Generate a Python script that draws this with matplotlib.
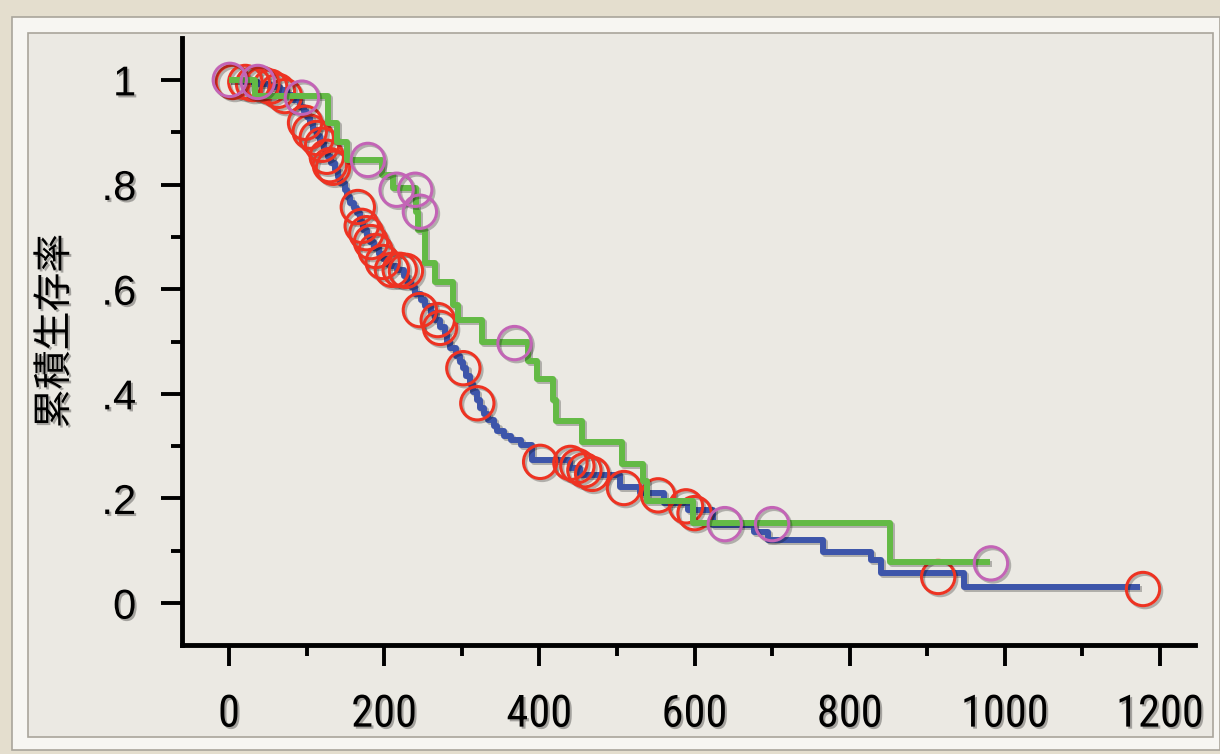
import matplotlib.pyplot as plt
import matplotlib.patheffects as pe
from matplotlib.patches import Rectangle
from matplotlib import font_manager

# group 1 (blue) - step times (days) and survival after each step
blue_time = [0, 21, 37, 53, 66, 75, 83, 92, 97, 101, 105, 108, 114, 117, 123, 127,
             132, 137, 141, 143, 149, 152, 156, 161, 165, 169, 173, 178, 182, 187,
             193, 199, 204, 208, 217, 225, 230, 234, 240, 247, 253, 260, 266, 272,
             278, 281, 285, 292, 298, 302, 306, 310, 314, 319, 324, 329, 334, 341,
             346, 354, 363, 376, 391, 440, 453, 504, 530, 560, 591, 624, 676, 695,
             766, 827, 840, 947]
blue_surv = [1.0, 0.996, 0.992, 0.987, 0.981, 0.971, 0.962, 0.948, 0.939, 0.929,
             0.918, 0.904, 0.893, 0.879, 0.866, 0.853, 0.841, 0.828, 0.815, 0.803,
             0.790, 0.776, 0.765, 0.755, 0.746, 0.729, 0.713, 0.702, 0.690, 0.679,
             0.667, 0.658, 0.648, 0.644, 0.637, 0.625, 0.614, 0.604, 0.591, 0.579,
             0.568, 0.554, 0.541, 0.528, 0.514, 0.499, 0.488, 0.472, 0.461, 0.449,
             0.434, 0.419, 0.403, 0.388, 0.373, 0.361, 0.350, 0.338, 0.329, 0.319,
             0.312, 0.302, 0.273, 0.258, 0.245, 0.222, 0.210, 0.191, 0.178, 0.149,
             0.136, 0.120, 0.098, 0.082, 0.057, 0.031]
blue_end = 1174

# group 1 censored
red_time = [5, 21, 31, 43, 53, 63, 72, 98, 104, 113, 120, 126, 130, 134, 166, 171,
            177, 183, 189, 198, 210, 220, 228, 246, 269, 272, 302, 320, 401, 440,
            449, 458, 468, 509, 553, 589, 600, 914, 1178]
red_surv = [0.996, 0.996, 0.992, 0.992, 0.987, 0.979, 0.969, 0.918, 0.901, 0.889,
            0.876, 0.853, 0.837, 0.832, 0.757, 0.721, 0.707, 0.690, 0.673, 0.652,
            0.637, 0.637, 0.635, 0.560, 0.541, 0.526, 0.449, 0.382, 0.270, 0.268,
            0.262, 0.254, 0.247, 0.220, 0.206, 0.185, 0.172, 0.050, 0.027]

# group 2 (green)
green_time = [0, 34, 128, 139, 152, 197, 211, 241, 244, 253, 266, 289, 295, 326,
              385, 397, 418, 421, 455, 506, 534, 539, 598, 852]
green_surv = [1.0, 0.969, 0.918, 0.881, 0.847, 0.818, 0.793, 0.748, 0.713, 0.650,
              0.614, 0.570, 0.541, 0.499, 0.463, 0.428, 0.388, 0.348, 0.308, 0.266,
              0.233, 0.195, 0.153, 0.078]
green_end = 981

# group 2 censored
purple_time = [1, 37, 94, 179, 216, 240, 246, 368, 639, 700, 982]
purple_surv = [1.0, 0.996, 0.966, 0.847, 0.790, 0.790, 0.748, 0.497, 0.151, 0.151, 0.076]

x_ticks = [0, 200, 400, 600, 800, 1000, 1200]
y_ticks = [0, 0.2, 0.4, 0.6, 0.8, 1.0]
y_tick_labels = ["0", ".2", ".4", ".6", ".8", "1"]
y_title = "累積生存率"

# narrow font for the x labels if one is around
names = {f.name for f in font_manager.fontManager.ttflist}
narrow = None
for cand in ["Liberation Sans Narrow", "DejaVu Sans Condensed", "Roboto Condensed",
             "Open Sans Condensed"]:
    if cand in names:
        narrow = cand
        break
condensed_dejavu = any(f.name == "DejaVu Sans" and f.stretch == "condensed"
                       for f in font_manager.fontManager.ttflist)

W, H = 1220, 754
fig = plt.figure(figsize=(W / 100, H / 100), dpi=100)
fig.patch.set_facecolor("#e4dece")

# paper frame, drawn under the axes
fig.patches.append(Rectangle((12 / W, 1 - 750 / H), (1220 - 12) / W, (750 - 17) / H,
                             transform=fig.transFigure, facecolor="#f7f6f2",
                             edgecolor="#a9a59b", lw=1.2, zorder=-10))
fig.patches.append(Rectangle((28 / W, 1 - 737 / H), (1213 - 28) / W, (737 - 33) / H,
                             transform=fig.transFigure, facecolor="#ebe9e3",
                             edgecolor="#a9a59b", lw=1.2, zorder=-9))

ax = fig.add_axes([182 / W, 1 - 645 / H, (1195 - 182) / W, (645 - 38) / H])
ax.set_facecolor("none")

shadow = [pe.SimpleLineShadow(offset=(1.5, -1.5), alpha=0.25), pe.Normal()]

ax.step(blue_time + [blue_end], blue_surv + [blue_surv[-1]], where="post",
        color="#3d55aa", lw=4.3, solid_capstyle="butt", path_effects=shadow, zorder=2)
ax.plot(red_time, red_surv, "o", ms=24, mfc="none", mec="#ee3322", mew=2.2,
        path_effects=shadow, zorder=3)
ax.step(green_time + [green_end], green_surv + [green_surv[-1]], where="post",
        color="#63ba45", lw=4.3, solid_capstyle="butt", path_effects=shadow, zorder=4)
ax.plot(purple_time, purple_surv, "o", ms=24, mfc="none", mec="#c364b6", mew=2.2,
        path_effects=shadow, zorder=5)

ax.set_xlim(-60.6, 1245)
ax.set_ylim(-0.080, 1.080)

for s in ["top", "right"]:
    ax.spines[s].set_visible(False)
for s in ["left", "bottom"]:
    ax.spines[s].set_linewidth(3.5)
    ax.spines[s].set_color("black")

ax.set_xticks(x_ticks)
ax.set_xticks([100, 300, 500, 700, 900, 1100], minor=True)
ax.set_yticks(y_ticks)
ax.set_yticklabels(y_tick_labels)
ax.set_yticks([0.1, 0.3, 0.5, 0.7, 0.9], minor=True)

ax.tick_params(axis="both", which="major", direction="out", length=15, width=2.8, color="black")
ax.tick_params(axis="both", which="minor", direction="out", length=8, width=2.8, color="black")
ax.tick_params(axis="y", which="major", pad=18)
ax.tick_params(axis="x", which="major", pad=20)

txt_shadow = [pe.SimplePatchShadow(offset=(1.5, -1.5), alpha=0.3), pe.Normal()]
for lab in ax.get_xticklabels():
    if narrow:
        lab.set_family([narrow, "DejaVu Sans"])
        lab.set_fontsize(32)
    elif condensed_dejavu:
        lab.set_family("DejaVu Sans")
        lab.set_fontstretch("condensed")
        lab.set_fontsize(30)
    else:
        lab.set_family("DejaVu Sans")
        lab.set_fontsize(28)
    lab.set_path_effects(txt_shadow)
for lab in ax.get_yticklabels():
    lab.set_family(["Liberation Sans", "DejaVu Sans"])
    lab.set_fontsize(30)
    lab.set_path_effects(txt_shadow)

fig.text(55 / W, 1 - 331 / H, y_title, rotation=90, ha="center", va="center",
         fontsize=28, family=["Noto Sans CJK JP", "DejaVu Sans"],
         path_effects=txt_shadow)

fig.savefig("out.png", dpi=100, facecolor=fig.get_facecolor())
